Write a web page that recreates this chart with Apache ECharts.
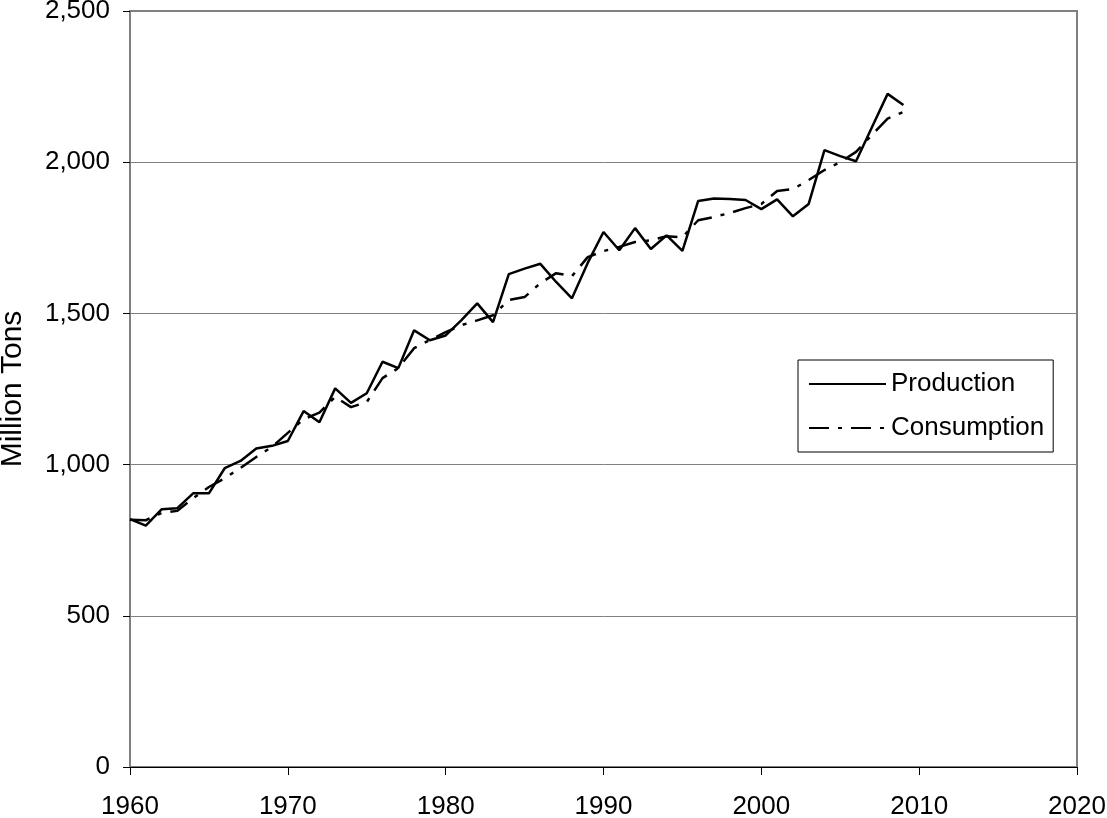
<!DOCTYPE html>
<html>
<head>
<meta charset="utf-8">
<script src="https://cdn.jsdelivr.net/npm/echarts@6/dist/echarts.min.js"></script>
<style>
  html, body { margin: 0; padding: 0; background: #fff; }
  #chart { width: 1107px; height: 818px; }
</style>
</head>
<body>
<div id="chart"></div>
<script>
var years = []
for (var y = 1960; y <= 2009; y++) years.push(y)

var production = [
  820, 798, 852, 856, 905, 905, 988, 1012, 1053, 1062,
  1078, 1177, 1140, 1252, 1204, 1236, 1340, 1319, 1444, 1411,
  1427, 1478, 1533, 1471, 1630, 1648, 1664, 1604, 1550, 1667,
  1769, 1709, 1782, 1713, 1758, 1707, 1872, 1880, 1878, 1875,
  1845, 1877, 1821, 1862, 2040, 2020, 2003, 2115, 2226, 2189
]
var consumption = [
  818, 816, 840, 847, 889, 926, 955, 989, 1025, 1059,
  1105, 1150, 1172, 1224, 1190, 1207, 1286, 1319, 1385, 1412,
  1438, 1461, 1477, 1494, 1544, 1554, 1600, 1633, 1623, 1686,
  1706, 1720, 1736, 1742, 1755, 1752, 1808, 1819, 1832, 1848,
  1862, 1905, 1911, 1941, 1974, 2000, 2034, 2090, 2144, 2166
]

function pairs(vals) {
  return years.map(function (yr, i) { return [yr, vals[i]] })
}

var font = 'Liberation Sans, Arial, sans-serif'
var chart = echarts.init(document.getElementById('chart'))
chart.setOption({
  animation: false,
  grid: {
    left: 130, right: 30, top: 11, bottom: 51,
    outerBoundsMode: 'none',
    show: true, borderColor: '#808080', borderWidth: 2
  },
  legend: {
    orient: 'vertical',
    left: 798, top: 360,
    padding: [11, 9, 11, 10],
    itemGap: 18,
    itemWidth: 77, itemHeight: 14,
    borderColor: '#000', borderWidth: 1,
    itemStyle: { opacity: 0 },
    textStyle: { fontFamily: font, fontSize: 26, color: '#000' },
    data: ['Production', 'Consumption']
  },
  xAxis: {
    type: 'value', min: 1960, max: 2020, interval: 10,
    axisLine: { lineStyle: { color: '#000', width: 1 } },
    axisTick: { show: true, length: 8, lineStyle: { color: '#000' } },
    splitLine: { show: false },
    axisLabel: {
      fontFamily: font, fontSize: 26, color: '#000', margin: 27,
      formatter: function (v) { return String(v) }
    }
  },
  yAxis: {
    type: 'value', min: 0, max: 2500, interval: 500,
    name: 'Million Tons', nameLocation: 'middle', nameGap: 102,
    nameTextStyle: { fontFamily: font, fontSize: 30, color: '#000' },
    axisLine: { show: true, lineStyle: { color: '#808080', width: 2 } },
    axisTick: { show: true, length: 7, lineStyle: { color: '#000' } },
    splitLine: { lineStyle: { color: '#808080', width: 1 } },
    axisLabel: {
      fontFamily: font, fontSize: 26, color: '#000', margin: 20,
      formatter: function (v) { return v.toLocaleString('en-US') }
    }
  },
  series: [
    {
      name: 'Production', type: 'line', data: pairs(production),
      symbol: 'none', z: 3,
      lineStyle: { color: '#000', width: 2.5 },
      itemStyle: { color: '#000' }
    },
    {
      name: 'Consumption', type: 'line', data: pairs(consumption),
      symbol: 'none', z: 2,
      lineStyle: { color: '#000', width: 2.5, type: [20, 9, 4, 9] },
      itemStyle: { color: '#000' }
    }
  ]
})
</script>
</body>
</html>
